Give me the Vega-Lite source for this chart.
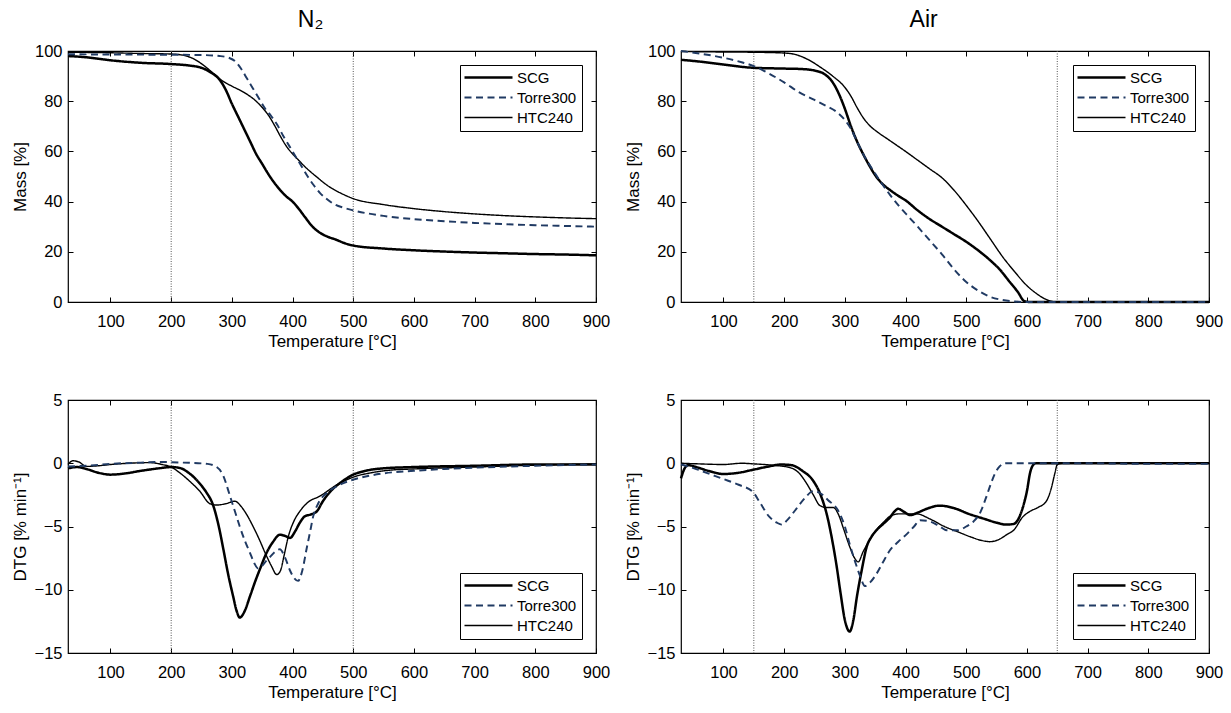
{
  "$schema": "https://vega.github.io/schema/vega-lite/v6.json",
  "padding": {"left": 10, "top": 8, "right": 5, "bottom": 5},
  "background": "white",
  "datasets": {
    "guides": [
      {"p": "n2", "t": 200}, {"p": "n2", "t": 500},
      {"p": "air", "t": 150}, {"p": "air", "t": 650}
    ],
    "curves": [
      {"p":"n2m","s":"SCG","t":30,"v":98},{"p":"n2m","s":"SCG","t":60,"v":97.5},{"p":"n2m","s":"SCG","t":100,"v":96.3},{"p":"n2m","s":"SCG","t":150,"v":95.3},{"p":"n2m","s":"SCG","t":200,"v":94.8},{"p":"n2m","s":"SCG","t":230,"v":94.2},{"p":"n2m","s":"SCG","t":250,"v":93.3},{"p":"n2m","s":"SCG","t":265,"v":91.5},{"p":"n2m","s":"SCG","t":280,"v":88.5},{"p":"n2m","s":"SCG","t":290,"v":84.5},{"p":"n2m","s":"SCG","t":300,"v":79},{"p":"n2m","s":"SCG","t":310,"v":74},{"p":"n2m","s":"SCG","t":320,"v":69},{"p":"n2m","s":"SCG","t":330,"v":64},{"p":"n2m","s":"SCG","t":340,"v":59},{"p":"n2m","s":"SCG","t":350,"v":55},{"p":"n2m","s":"SCG","t":360,"v":51},{"p":"n2m","s":"SCG","t":370,"v":47.5},{"p":"n2m","s":"SCG","t":380,"v":44.5},{"p":"n2m","s":"SCG","t":390,"v":42},{"p":"n2m","s":"SCG","t":400,"v":40},{"p":"n2m","s":"SCG","t":410,"v":37.2},{"p":"n2m","s":"SCG","t":420,"v":34},{"p":"n2m","s":"SCG","t":433,"v":30},{"p":"n2m","s":"SCG","t":445,"v":27.6},{"p":"n2m","s":"SCG","t":458,"v":26},{"p":"n2m","s":"SCG","t":472,"v":24.8},{"p":"n2m","s":"SCG","t":485,"v":23.5},{"p":"n2m","s":"SCG","t":500,"v":22.5},{"p":"n2m","s":"SCG","t":550,"v":21.3},{"p":"n2m","s":"SCG","t":600,"v":20.6},{"p":"n2m","s":"SCG","t":650,"v":20.1},{"p":"n2m","s":"SCG","t":700,"v":19.7},{"p":"n2m","s":"SCG","t":750,"v":19.4},{"p":"n2m","s":"SCG","t":800,"v":19.1},{"p":"n2m","s":"SCG","t":850,"v":18.9},{"p":"n2m","s":"SCG","t":900,"v":18.6},
      {"p":"n2m","s":"HTC240","t":30,"v":99.5},{"p":"n2m","s":"HTC240","t":100,"v":99.3},{"p":"n2m","s":"HTC240","t":150,"v":99},{"p":"n2m","s":"HTC240","t":200,"v":98.8},{"p":"n2m","s":"HTC240","t":220,"v":98.3},{"p":"n2m","s":"HTC240","t":240,"v":96.5},{"p":"n2m","s":"HTC240","t":255,"v":94},{"p":"n2m","s":"HTC240","t":270,"v":91},{"p":"n2m","s":"HTC240","t":285,"v":88},{"p":"n2m","s":"HTC240","t":300,"v":86},{"p":"n2m","s":"HTC240","t":320,"v":83.5},{"p":"n2m","s":"HTC240","t":340,"v":80},{"p":"n2m","s":"HTC240","t":350,"v":77.5},{"p":"n2m","s":"HTC240","t":360,"v":74.5},{"p":"n2m","s":"HTC240","t":370,"v":70.5},{"p":"n2m","s":"HTC240","t":380,"v":66},{"p":"n2m","s":"HTC240","t":390,"v":62},{"p":"n2m","s":"HTC240","t":400,"v":59},{"p":"n2m","s":"HTC240","t":410,"v":56.5},{"p":"n2m","s":"HTC240","t":420,"v":54},{"p":"n2m","s":"HTC240","t":430,"v":51.8},{"p":"n2m","s":"HTC240","t":440,"v":49.8},{"p":"n2m","s":"HTC240","t":450,"v":47.8},{"p":"n2m","s":"HTC240","t":460,"v":46},{"p":"n2m","s":"HTC240","t":480,"v":43.3},{"p":"n2m","s":"HTC240","t":500,"v":41.2},{"p":"n2m","s":"HTC240","t":550,"v":38.8},{"p":"n2m","s":"HTC240","t":600,"v":37.2},{"p":"n2m","s":"HTC240","t":650,"v":36},{"p":"n2m","s":"HTC240","t":700,"v":35.1},{"p":"n2m","s":"HTC240","t":750,"v":34.4},{"p":"n2m","s":"HTC240","t":800,"v":33.9},{"p":"n2m","s":"HTC240","t":850,"v":33.5},{"p":"n2m","s":"HTC240","t":900,"v":33.2},
      {"p":"n2m","s":"Torre300","t":30,"v":98.7},{"p":"n2m","s":"Torre300","t":100,"v":98.6},{"p":"n2m","s":"Torre300","t":200,"v":98.5},{"p":"n2m","s":"Torre300","t":250,"v":98.4},{"p":"n2m","s":"Torre300","t":280,"v":98},{"p":"n2m","s":"Torre300","t":295,"v":97.3},{"p":"n2m","s":"Torre300","t":305,"v":96},{"p":"n2m","s":"Torre300","t":315,"v":93},{"p":"n2m","s":"Torre300","t":325,"v":89},{"p":"n2m","s":"Torre300","t":335,"v":85},{"p":"n2m","s":"Torre300","t":345,"v":81},{"p":"n2m","s":"Torre300","t":355,"v":77},{"p":"n2m","s":"Torre300","t":365,"v":74},{"p":"n2m","s":"Torre300","t":375,"v":70.5},{"p":"n2m","s":"Torre300","t":385,"v":66},{"p":"n2m","s":"Torre300","t":395,"v":62},{"p":"n2m","s":"Torre300","t":405,"v":58},{"p":"n2m","s":"Torre300","t":415,"v":54},{"p":"n2m","s":"Torre300","t":425,"v":50},{"p":"n2m","s":"Torre300","t":435,"v":46.5},{"p":"n2m","s":"Torre300","t":445,"v":43.5},{"p":"n2m","s":"Torre300","t":455,"v":41.3},{"p":"n2m","s":"Torre300","t":470,"v":38.8},{"p":"n2m","s":"Torre300","t":485,"v":37.5},{"p":"n2m","s":"Torre300","t":500,"v":36.5},{"p":"n2m","s":"Torre300","t":550,"v":34.3},{"p":"n2m","s":"Torre300","t":600,"v":33},{"p":"n2m","s":"Torre300","t":650,"v":32.2},{"p":"n2m","s":"Torre300","t":700,"v":31.5},{"p":"n2m","s":"Torre300","t":750,"v":31},{"p":"n2m","s":"Torre300","t":800,"v":30.6},{"p":"n2m","s":"Torre300","t":850,"v":30.3},{"p":"n2m","s":"Torre300","t":900,"v":30},

      {"p":"airm","s":"SCG","t":30,"v":96.5},{"p":"airm","s":"SCG","t":60,"v":95.8},{"p":"airm","s":"SCG","t":100,"v":94.6},{"p":"airm","s":"SCG","t":150,"v":93.3},{"p":"airm","s":"SCG","t":200,"v":93},{"p":"airm","s":"SCG","t":230,"v":92.8},{"p":"airm","s":"SCG","t":250,"v":92.2},{"p":"airm","s":"SCG","t":265,"v":91},{"p":"airm","s":"SCG","t":280,"v":87.5},{"p":"airm","s":"SCG","t":290,"v":83},{"p":"airm","s":"SCG","t":300,"v":77},{"p":"airm","s":"SCG","t":310,"v":70},{"p":"airm","s":"SCG","t":320,"v":64},{"p":"airm","s":"SCG","t":330,"v":59},{"p":"airm","s":"SCG","t":340,"v":54.5},{"p":"airm","s":"SCG","t":350,"v":50.5},{"p":"airm","s":"SCG","t":360,"v":47.5},{"p":"airm","s":"SCG","t":375,"v":44.5},{"p":"airm","s":"SCG","t":390,"v":42},{"p":"airm","s":"SCG","t":400,"v":40.5},{"p":"airm","s":"SCG","t":420,"v":36.5},{"p":"airm","s":"SCG","t":440,"v":33},{"p":"airm","s":"SCG","t":460,"v":30},{"p":"airm","s":"SCG","t":480,"v":27},{"p":"airm","s":"SCG","t":500,"v":24},{"p":"airm","s":"SCG","t":520,"v":20.5},{"p":"airm","s":"SCG","t":540,"v":16.5},{"p":"airm","s":"SCG","t":555,"v":13},{"p":"airm","s":"SCG","t":570,"v":8.5},{"p":"airm","s":"SCG","t":585,"v":4},{"p":"airm","s":"SCG","t":596,"v":0.3},{"p":"airm","s":"SCG","t":605,"v":0},{"p":"airm","s":"SCG","t":650,"v":0},{"p":"airm","s":"SCG","t":700,"v":0},{"p":"airm","s":"SCG","t":800,"v":0},{"p":"airm","s":"SCG","t":900,"v":0},
      {"p":"airm","s":"HTC240","t":30,"v":99.8},{"p":"airm","s":"HTC240","t":100,"v":99.6},{"p":"airm","s":"HTC240","t":150,"v":99.5},{"p":"airm","s":"HTC240","t":200,"v":99.2},{"p":"airm","s":"HTC240","t":220,"v":98.5},{"p":"airm","s":"HTC240","t":240,"v":96.5},{"p":"airm","s":"HTC240","t":260,"v":93.5},{"p":"airm","s":"HTC240","t":280,"v":90},{"p":"airm","s":"HTC240","t":300,"v":85.5},{"p":"airm","s":"HTC240","t":310,"v":82},{"p":"airm","s":"HTC240","t":320,"v":77.5},{"p":"airm","s":"HTC240","t":330,"v":73.5},{"p":"airm","s":"HTC240","t":340,"v":70.5},{"p":"airm","s":"HTC240","t":355,"v":67.5},{"p":"airm","s":"HTC240","t":370,"v":65},{"p":"airm","s":"HTC240","t":385,"v":62.5},{"p":"airm","s":"HTC240","t":400,"v":60},{"p":"airm","s":"HTC240","t":420,"v":56.5},{"p":"airm","s":"HTC240","t":440,"v":53},{"p":"airm","s":"HTC240","t":460,"v":49.5},{"p":"airm","s":"HTC240","t":480,"v":44.5},{"p":"airm","s":"HTC240","t":500,"v":38.5},{"p":"airm","s":"HTC240","t":520,"v":32},{"p":"airm","s":"HTC240","t":540,"v":25},{"p":"airm","s":"HTC240","t":560,"v":18},{"p":"airm","s":"HTC240","t":580,"v":12},{"p":"airm","s":"HTC240","t":600,"v":6.5},{"p":"airm","s":"HTC240","t":615,"v":3.5},{"p":"airm","s":"HTC240","t":630,"v":1.2},{"p":"airm","s":"HTC240","t":640,"v":0.3},{"p":"airm","s":"HTC240","t":650,"v":0},{"p":"airm","s":"HTC240","t":700,"v":0},{"p":"airm","s":"HTC240","t":800,"v":0},{"p":"airm","s":"HTC240","t":900,"v":0},
      {"p":"airm","s":"Torre300","t":30,"v":100},{"p":"airm","s":"Torre300","t":60,"v":99},{"p":"airm","s":"Torre300","t":100,"v":97.3},{"p":"airm","s":"Torre300","t":130,"v":95.5},{"p":"airm","s":"Torre300","t":150,"v":94},{"p":"airm","s":"Torre300","t":175,"v":91},{"p":"airm","s":"Torre300","t":200,"v":87.5},{"p":"airm","s":"Torre300","t":225,"v":83.5},{"p":"airm","s":"Torre300","t":250,"v":80.5},{"p":"airm","s":"Torre300","t":270,"v":78},{"p":"airm","s":"Torre300","t":285,"v":76},{"p":"airm","s":"Torre300","t":300,"v":72.5},{"p":"airm","s":"Torre300","t":310,"v":69},{"p":"airm","s":"Torre300","t":320,"v":64},{"p":"airm","s":"Torre300","t":330,"v":59},{"p":"airm","s":"Torre300","t":345,"v":53},{"p":"airm","s":"Torre300","t":360,"v":47.5},{"p":"airm","s":"Torre300","t":375,"v":42.5},{"p":"airm","s":"Torre300","t":390,"v":38},{"p":"airm","s":"Torre300","t":405,"v":34},{"p":"airm","s":"Torre300","t":420,"v":30},{"p":"airm","s":"Torre300","t":440,"v":24.5},{"p":"airm","s":"Torre300","t":460,"v":19},{"p":"airm","s":"Torre300","t":480,"v":13},{"p":"airm","s":"Torre300","t":500,"v":8},{"p":"airm","s":"Torre300","t":520,"v":4.5},{"p":"airm","s":"Torre300","t":540,"v":2},{"p":"airm","s":"Torre300","t":560,"v":0.8},{"p":"airm","s":"Torre300","t":580,"v":0.2},{"p":"airm","s":"Torre300","t":600,"v":0},{"p":"airm","s":"Torre300","t":700,"v":0},{"p":"airm","s":"Torre300","t":800,"v":0},{"p":"airm","s":"Torre300","t":900,"v":0},

      {"p":"n2d","s":"SCG","t":30,"v":-0.4},{"p":"n2d","s":"SCG","t":45,"v":-0.3},{"p":"n2d","s":"SCG","t":60,"v":-0.45},{"p":"n2d","s":"SCG","t":80,"v":-0.75},{"p":"n2d","s":"SCG","t":100,"v":-0.9},{"p":"n2d","s":"SCG","t":125,"v":-0.8},{"p":"n2d","s":"SCG","t":150,"v":-0.6},{"p":"n2d","s":"SCG","t":180,"v":-0.4},{"p":"n2d","s":"SCG","t":200,"v":-0.3},{"p":"n2d","s":"SCG","t":214,"v":-0.37},{"p":"n2d","s":"SCG","t":230,"v":-0.8},{"p":"n2d","s":"SCG","t":247,"v":-1.6},{"p":"n2d","s":"SCG","t":258,"v":-2.3},{"p":"n2d","s":"SCG","t":269,"v":-3.3},{"p":"n2d","s":"SCG","t":278,"v":-4.9},{"p":"n2d","s":"SCG","t":286,"v":-6.8},{"p":"n2d","s":"SCG","t":294,"v":-8.8},{"p":"n2d","s":"SCG","t":302,"v":-10.5},{"p":"n2d","s":"SCG","t":308,"v":-11.7},{"p":"n2d","s":"SCG","t":313,"v":-12.2},{"p":"n2d","s":"SCG","t":320,"v":-11.8},{"p":"n2d","s":"SCG","t":330,"v":-10.5},{"p":"n2d","s":"SCG","t":338,"v":-9.4},{"p":"n2d","s":"SCG","t":346,"v":-8.4},{"p":"n2d","s":"SCG","t":357,"v":-7.1},{"p":"n2d","s":"SCG","t":368,"v":-6.2},{"p":"n2d","s":"SCG","t":379,"v":-5.65},{"p":"n2d","s":"SCG","t":388,"v":-5.75},{"p":"n2d","s":"SCG","t":396,"v":-5.9},{"p":"n2d","s":"SCG","t":404,"v":-5.4},{"p":"n2d","s":"SCG","t":412,"v":-4.7},{"p":"n2d","s":"SCG","t":420,"v":-4.2},{"p":"n2d","s":"SCG","t":430,"v":-4.05},{"p":"n2d","s":"SCG","t":440,"v":-3.8},{"p":"n2d","s":"SCG","t":450,"v":-3.0},{"p":"n2d","s":"SCG","t":465,"v":-2.1},{"p":"n2d","s":"SCG","t":480,"v":-1.5},{"p":"n2d","s":"SCG","t":500,"v":-0.9},{"p":"n2d","s":"SCG","t":520,"v":-0.6},{"p":"n2d","s":"SCG","t":550,"v":-0.4},{"p":"n2d","s":"SCG","t":600,"v":-0.3},{"p":"n2d","s":"SCG","t":700,"v":-0.2},{"p":"n2d","s":"SCG","t":800,"v":-0.1},{"p":"n2d","s":"SCG","t":900,"v":-0.1},
      {"p":"n2d","s":"HTC240","t":30,"v":-0.1},{"p":"n2d","s":"HTC240","t":38,"v":0.2},{"p":"n2d","s":"HTC240","t":48,"v":0.1},{"p":"n2d","s":"HTC240","t":60,"v":-0.25},{"p":"n2d","s":"HTC240","t":80,"v":-0.2},{"p":"n2d","s":"HTC240","t":100,"v":-0.1},{"p":"n2d","s":"HTC240","t":130,"v":0},{"p":"n2d","s":"HTC240","t":165,"v":0.05},{"p":"n2d","s":"HTC240","t":185,"v":-0.1},{"p":"n2d","s":"HTC240","t":200,"v":-0.3},{"p":"n2d","s":"HTC240","t":214,"v":-0.75},{"p":"n2d","s":"HTC240","t":230,"v":-1.4},{"p":"n2d","s":"HTC240","t":247,"v":-2.2},{"p":"n2d","s":"HTC240","t":264,"v":-3.2},{"p":"n2d","s":"HTC240","t":275,"v":-3.3},{"p":"n2d","s":"HTC240","t":290,"v":-3.2},{"p":"n2d","s":"HTC240","t":305,"v":-3.0},{"p":"n2d","s":"HTC240","t":315,"v":-3.4},{"p":"n2d","s":"HTC240","t":325,"v":-4.1},{"p":"n2d","s":"HTC240","t":335,"v":-5},{"p":"n2d","s":"HTC240","t":345,"v":-6},{"p":"n2d","s":"HTC240","t":355,"v":-7.1},{"p":"n2d","s":"HTC240","t":365,"v":-8.1},{"p":"n2d","s":"HTC240","t":374,"v":-8.8},{"p":"n2d","s":"HTC240","t":380,"v":-8.5},{"p":"n2d","s":"HTC240","t":386,"v":-7.3},{"p":"n2d","s":"HTC240","t":393,"v":-5.8},{"p":"n2d","s":"HTC240","t":402,"v":-4.6},{"p":"n2d","s":"HTC240","t":412,"v":-3.8},{"p":"n2d","s":"HTC240","t":425,"v":-3.1},{"p":"n2d","s":"HTC240","t":445,"v":-2.6},{"p":"n2d","s":"HTC240","t":470,"v":-1.8},{"p":"n2d","s":"HTC240","t":500,"v":-1.1},{"p":"n2d","s":"HTC240","t":530,"v":-0.75},{"p":"n2d","s":"HTC240","t":560,"v":-0.55},{"p":"n2d","s":"HTC240","t":600,"v":-0.45},{"p":"n2d","s":"HTC240","t":700,"v":-0.3},{"p":"n2d","s":"HTC240","t":800,"v":-0.15},{"p":"n2d","s":"HTC240","t":900,"v":-0.05},
      {"p":"n2d","s":"Torre300","t":30,"v":-0.25},{"p":"n2d","s":"Torre300","t":60,"v":-0.2},{"p":"n2d","s":"Torre300","t":100,"v":-0.05},{"p":"n2d","s":"Torre300","t":150,"v":0.05},{"p":"n2d","s":"Torre300","t":180,"v":0.1},{"p":"n2d","s":"Torre300","t":220,"v":0.05},{"p":"n2d","s":"Torre300","t":260,"v":-0.05},{"p":"n2d","s":"Torre300","t":275,"v":-0.3},{"p":"n2d","s":"Torre300","t":285,"v":-0.9},{"p":"n2d","s":"Torre300","t":297,"v":-2.6},{"p":"n2d","s":"Torre300","t":305,"v":-3.8},{"p":"n2d","s":"Torre300","t":313,"v":-5.0},{"p":"n2d","s":"Torre300","t":322,"v":-6.2},{"p":"n2d","s":"Torre300","t":330,"v":-7.1},{"p":"n2d","s":"Torre300","t":337,"v":-7.9},{"p":"n2d","s":"Torre300","t":343,"v":-8.3},{"p":"n2d","s":"Torre300","t":350,"v":-8.1},{"p":"n2d","s":"Torre300","t":357,"v":-7.7},{"p":"n2d","s":"Torre300","t":363,"v":-7.4},{"p":"n2d","s":"Torre300","t":371,"v":-7.0},{"p":"n2d","s":"Torre300","t":379,"v":-6.8},{"p":"n2d","s":"Torre300","t":388,"v":-7.5},{"p":"n2d","s":"Torre300","t":396,"v":-8.5},{"p":"n2d","s":"Torre300","t":403,"v":-9.1},{"p":"n2d","s":"Torre300","t":409,"v":-9.3},{"p":"n2d","s":"Torre300","t":416,"v":-8.5},{"p":"n2d","s":"Torre300","t":423,"v":-6.8},{"p":"n2d","s":"Torre300","t":429,"v":-5.4},{"p":"n2d","s":"Torre300","t":434,"v":-4.2},{"p":"n2d","s":"Torre300","t":442,"v":-3.2},{"p":"n2d","s":"Torre300","t":455,"v":-2.4},{"p":"n2d","s":"Torre300","t":470,"v":-1.9},{"p":"n2d","s":"Torre300","t":485,"v":-1.55},{"p":"n2d","s":"Torre300","t":500,"v":-1.3},{"p":"n2d","s":"Torre300","t":550,"v":-0.8},{"p":"n2d","s":"Torre300","t":600,"v":-0.6},{"p":"n2d","s":"Torre300","t":650,"v":-0.45},{"p":"n2d","s":"Torre300","t":700,"v":-0.35},{"p":"n2d","s":"Torre300","t":800,"v":-0.2},{"p":"n2d","s":"Torre300","t":900,"v":-0.1},

      {"p":"aird","s":"SCG","t":30,"v":-1.2},{"p":"aird","s":"SCG","t":35,"v":-0.5},{"p":"aird","s":"SCG","t":42,"v":-0.15},{"p":"aird","s":"SCG","t":55,"v":-0.3},{"p":"aird","s":"SCG","t":75,"v":-0.6},{"p":"aird","s":"SCG","t":100,"v":-0.85},{"p":"aird","s":"SCG","t":125,"v":-0.75},{"p":"aird","s":"SCG","t":150,"v":-0.5},{"p":"aird","s":"SCG","t":175,"v":-0.25},{"p":"aird","s":"SCG","t":195,"v":-0.1},{"p":"aird","s":"SCG","t":212,"v":-0.15},{"p":"aird","s":"SCG","t":230,"v":-0.6},{"p":"aird","s":"SCG","t":248,"v":-1.4},{"p":"aird","s":"SCG","t":260,"v":-2.5},{"p":"aird","s":"SCG","t":270,"v":-4},{"p":"aird","s":"SCG","t":280,"v":-6.3},{"p":"aird","s":"SCG","t":286,"v":-8},{"p":"aird","s":"SCG","t":293,"v":-10.3},{"p":"aird","s":"SCG","t":300,"v":-12.4},{"p":"aird","s":"SCG","t":308,"v":-13.3},{"p":"aird","s":"SCG","t":314,"v":-12.4},{"p":"aird","s":"SCG","t":320,"v":-10.5},{"p":"aird","s":"SCG","t":328,"v":-8.4},{"p":"aird","s":"SCG","t":336,"v":-6.6},{"p":"aird","s":"SCG","t":344,"v":-5.8},{"p":"aird","s":"SCG","t":352,"v":-5.3},{"p":"aird","s":"SCG","t":363,"v":-4.8},{"p":"aird","s":"SCG","t":374,"v":-4.3},{"p":"aird","s":"SCG","t":382,"v":-3.8},{"p":"aird","s":"SCG","t":388,"v":-3.6},{"p":"aird","s":"SCG","t":396,"v":-3.8},{"p":"aird","s":"SCG","t":408,"v":-4.1},{"p":"aird","s":"SCG","t":420,"v":-3.9},{"p":"aird","s":"SCG","t":435,"v":-3.6},{"p":"aird","s":"SCG","t":456,"v":-3.35},{"p":"aird","s":"SCG","t":480,"v":-3.55},{"p":"aird","s":"SCG","t":504,"v":-4.0},{"p":"aird","s":"SCG","t":530,"v":-4.4},{"p":"aird","s":"SCG","t":550,"v":-4.7},{"p":"aird","s":"SCG","t":566,"v":-4.85},{"p":"aird","s":"SCG","t":578,"v":-4.8},{"p":"aird","s":"SCG","t":588,"v":-4.2},{"p":"aird","s":"SCG","t":595,"v":-3.2},{"p":"aird","s":"SCG","t":600,"v":-2.2},{"p":"aird","s":"SCG","t":605,"v":-0.8},{"p":"aird","s":"SCG","t":610,"v":-0.15},{"p":"aird","s":"SCG","t":615,"v":0},{"p":"aird","s":"SCG","t":650,"v":0},{"p":"aird","s":"SCG","t":700,"v":0},{"p":"aird","s":"SCG","t":800,"v":0},{"p":"aird","s":"SCG","t":900,"v":0},
      {"p":"aird","s":"HTC240","t":30,"v":0},{"p":"aird","s":"HTC240","t":60,"v":-0.05},{"p":"aird","s":"HTC240","t":100,"v":-0.1},{"p":"aird","s":"HTC240","t":130,"v":0},{"p":"aird","s":"HTC240","t":150,"v":-0.05},{"p":"aird","s":"HTC240","t":180,"v":-0.15},{"p":"aird","s":"HTC240","t":210,"v":-0.35},{"p":"aird","s":"HTC240","t":225,"v":-0.8},{"p":"aird","s":"HTC240","t":237,"v":-1.6},{"p":"aird","s":"HTC240","t":248,"v":-2.5},{"p":"aird","s":"HTC240","t":259,"v":-3.35},{"p":"aird","s":"HTC240","t":270,"v":-3.5},{"p":"aird","s":"HTC240","t":281,"v":-3.5},{"p":"aird","s":"HTC240","t":289,"v":-4},{"p":"aird","s":"HTC240","t":298,"v":-5.2},{"p":"aird","s":"HTC240","t":308,"v":-6.6},{"p":"aird","s":"HTC240","t":316,"v":-7.5},{"p":"aird","s":"HTC240","t":322,"v":-7.8},{"p":"aird","s":"HTC240","t":330,"v":-7},{"p":"aird","s":"HTC240","t":338,"v":-6.3},{"p":"aird","s":"HTC240","t":347,"v":-5.6},{"p":"aird","s":"HTC240","t":355,"v":-5.1},{"p":"aird","s":"HTC240","t":363,"v":-4.7},{"p":"aird","s":"HTC240","t":374,"v":-4.2},{"p":"aird","s":"HTC240","t":390,"v":-4.0},{"p":"aird","s":"HTC240","t":418,"v":-4.0},{"p":"aird","s":"HTC240","t":440,"v":-4.4},{"p":"aird","s":"HTC240","t":464,"v":-5.0},{"p":"aird","s":"HTC240","t":485,"v":-5.4},{"p":"aird","s":"HTC240","t":506,"v":-5.8},{"p":"aird","s":"HTC240","t":525,"v":-6.1},{"p":"aird","s":"HTC240","t":539,"v":-6.2},{"p":"aird","s":"HTC240","t":555,"v":-6},{"p":"aird","s":"HTC240","t":568,"v":-5.6},{"p":"aird","s":"HTC240","t":578,"v":-5.3},{"p":"aird","s":"HTC240","t":593,"v":-4.25},{"p":"aird","s":"HTC240","t":605,"v":-3.8},{"p":"aird","s":"HTC240","t":618,"v":-3.5},{"p":"aird","s":"HTC240","t":632,"v":-3.0},{"p":"aird","s":"HTC240","t":640,"v":-2},{"p":"aird","s":"HTC240","t":646,"v":-0.8},{"p":"aird","s":"HTC240","t":650,"v":-0.1},{"p":"aird","s":"HTC240","t":660,"v":0},{"p":"aird","s":"HTC240","t":700,"v":0},{"p":"aird","s":"HTC240","t":800,"v":0},{"p":"aird","s":"HTC240","t":900,"v":0},
      {"p":"aird","s":"Torre300","t":30,"v":-0.1},{"p":"aird","s":"Torre300","t":45,"v":-0.3},{"p":"aird","s":"Torre300","t":60,"v":-0.55},{"p":"aird","s":"Torre300","t":80,"v":-0.9},{"p":"aird","s":"Torre300","t":100,"v":-1.25},{"p":"aird","s":"Torre300","t":125,"v":-1.7},{"p":"aird","s":"Torre300","t":149,"v":-2.3},{"p":"aird","s":"Torre300","t":160,"v":-3.1},{"p":"aird","s":"Torre300","t":175,"v":-4.2},{"p":"aird","s":"Torre300","t":188,"v":-4.7},{"p":"aird","s":"Torre300","t":196,"v":-4.85},{"p":"aird","s":"Torre300","t":205,"v":-4.5},{"p":"aird","s":"Torre300","t":220,"v":-3.6},{"p":"aird","s":"Torre300","t":235,"v":-2.7},{"p":"aird","s":"Torre300","t":248,"v":-2.2},{"p":"aird","s":"Torre300","t":259,"v":-2.35},{"p":"aird","s":"Torre300","t":272,"v":-2.9},{"p":"aird","s":"Torre300","t":289,"v":-3.75},{"p":"aird","s":"Torre300","t":300,"v":-5},{"p":"aird","s":"Torre300","t":308,"v":-6.4},{"p":"aird","s":"Torre300","t":317,"v":-7.8},{"p":"aird","s":"Torre300","t":325,"v":-8.9},{"p":"aird","s":"Torre300","t":333,"v":-9.7},{"p":"aird","s":"Torre300","t":342,"v":-9.4},{"p":"aird","s":"Torre300","t":352,"v":-8.75},{"p":"aird","s":"Torre300","t":363,"v":-7.8},{"p":"aird","s":"Torre300","t":374,"v":-6.9},{"p":"aird","s":"Torre300","t":388,"v":-6.2},{"p":"aird","s":"Torre300","t":402,"v":-5.6},{"p":"aird","s":"Torre300","t":414,"v":-5.0},{"p":"aird","s":"Torre300","t":424,"v":-4.5},{"p":"aird","s":"Torre300","t":440,"v":-4.6},{"p":"aird","s":"Torre300","t":455,"v":-4.95},{"p":"aird","s":"Torre300","t":468,"v":-5.3},{"p":"aird","s":"Torre300","t":485,"v":-5.3},{"p":"aird","s":"Torre300","t":500,"v":-5.0},{"p":"aird","s":"Torre300","t":512,"v":-4.6},{"p":"aird","s":"Torre300","t":522,"v":-4.0},{"p":"aird","s":"Torre300","t":532,"v":-2.8},{"p":"aird","s":"Torre300","t":540,"v":-1.7},{"p":"aird","s":"Torre300","t":547,"v":-0.85},{"p":"aird","s":"Torre300","t":555,"v":-0.25},{"p":"aird","s":"Torre300","t":565,"v":0},{"p":"aird","s":"Torre300","t":600,"v":0},{"p":"aird","s":"Torre300","t":700,"v":0},{"p":"aird","s":"Torre300","t":800,"v":-0.05},{"p":"aird","s":"Torre300","t":900,"v":-0.05}
    ]
  },
  "columns": 2,
  "bounds": "flush",
  "spacing": {"row": 98, "column": 85},
  "concat": [
    {
      "width": 528, "height": 251,
      "title": "N₂",
      "layer": [
        {"data": {"name": "guides"}, "transform": [{"filter": "datum.p === 'n2'"}],
         "mark": {"type": "rule", "color": "#555", "strokeDash": [1, 1.5], "strokeWidth": 1},
         "encoding": {"x": {"field": "t", "type": "quantitative", "scale": {"domain": [30, 900], "nice": false, "zero": false}, "axis": {"orient": "top", "labels": false, "title": null, "values": [100,200,300,400,500,600,700,800,900]}}}},
        {"data": {"name": "curves"}, "transform": [{"filter": "datum.p === 'n2m'"}],
         "mark": {"type": "line", "interpolate": "monotone"},
         "encoding": {
           "x": {"field": "t", "type": "quantitative", "axis": {"title": "Temperature [°C]", "values": [100,200,300,400,500,600,700,800,900]}},
           "y": {"field": "v", "type": "quantitative", "scale": {"domain": [0, 100], "nice": false}, "axis": {"title": "Mass [%]", "values": [0,20,40,60,80,100]}},
           "color": {"field": "s", "type": "nominal", "scale": {"domain": ["SCG", "Torre300", "HTC240"], "range": ["#000000", "#203a63", "#000000"]}, "legend": {"orient": "top-right", "title": null}},
           "strokeDash": {"field": "s", "type": "nominal", "scale": {"domain": ["SCG", "Torre300", "HTC240"], "range": [[1, 0], [7, 4.5], [1, 0]]}, "legend": {"orient": "top-right", "title": null}},
           "strokeWidth": {"field": "s", "type": "nominal", "scale": {"type": "point", "padding": 0, "domain": ["SCG", "Torre300", "HTC240"], "range": [2.5, 1.4]}, "legend": {"orient": "top-right", "title": null}}
         }},
        {"data": {"name": "curves"}, "transform": [{"filter": "datum.p === 'n2m'"}],
         "mark": {"type": "line", "opacity": 0},
         "encoding": {
           "x": {"field": "t", "type": "quantitative", "axis": null},
           "y": {"field": "v", "type": "quantitative", "axis": {"orient": "right", "labels": false, "title": null, "values": [0,20,40,60,80,100]}},
           "detail": {"field": "s"}
         }}
      ],
      "resolve": {"axis": {"x": "independent", "y": "independent"}}
    },
    {
      "width": 528, "height": 251,
      "title": "Air",
      "layer": [
        {"data": {"name": "guides"}, "transform": [{"filter": "datum.p === 'air'"}],
         "mark": {"type": "rule", "color": "#555", "strokeDash": [1, 1.5], "strokeWidth": 1},
         "encoding": {"x": {"field": "t", "type": "quantitative", "scale": {"domain": [30, 900], "nice": false, "zero": false}, "axis": {"orient": "top", "labels": false, "title": null, "values": [100,200,300,400,500,600,700,800,900]}}}},
        {"data": {"name": "curves"}, "transform": [{"filter": "datum.p === 'airm'"}],
         "mark": {"type": "line", "interpolate": "monotone"},
         "encoding": {
           "x": {"field": "t", "type": "quantitative", "axis": {"title": "Temperature [°C]", "values": [100,200,300,400,500,600,700,800,900]}},
           "y": {"field": "v", "type": "quantitative", "scale": {"domain": [0, 100], "nice": false}, "axis": {"title": "Mass [%]", "values": [0,20,40,60,80,100]}},
           "color": {"field": "s", "type": "nominal", "scale": {"domain": ["SCG", "Torre300", "HTC240"], "range": ["#000000", "#203a63", "#000000"]}, "legend": {"orient": "top-right", "title": null}},
           "strokeDash": {"field": "s", "type": "nominal", "scale": {"domain": ["SCG", "Torre300", "HTC240"], "range": [[1, 0], [7, 4.5], [1, 0]]}, "legend": {"orient": "top-right", "title": null}},
           "strokeWidth": {"field": "s", "type": "nominal", "scale": {"type": "point", "padding": 0, "domain": ["SCG", "Torre300", "HTC240"], "range": [2.5, 1.4]}, "legend": {"orient": "top-right", "title": null}}
         }},
        {"data": {"name": "curves"}, "transform": [{"filter": "datum.p === 'airm'"}],
         "mark": {"type": "line", "opacity": 0},
         "encoding": {
           "x": {"field": "t", "type": "quantitative", "axis": null},
           "y": {"field": "v", "type": "quantitative", "axis": {"orient": "right", "labels": false, "title": null, "values": [0,20,40,60,80,100]}},
           "detail": {"field": "s"}
         }}
      ],
      "resolve": {"axis": {"x": "independent", "y": "independent"}}
    },
    {
      "width": 528, "height": 253,
      "layer": [
        {"data": {"name": "guides"}, "transform": [{"filter": "datum.p === 'n2'"}],
         "mark": {"type": "rule", "color": "#555", "strokeDash": [1, 1.5], "strokeWidth": 1},
         "encoding": {"x": {"field": "t", "type": "quantitative", "scale": {"domain": [30, 900], "nice": false, "zero": false}, "axis": {"orient": "top", "labels": false, "title": null, "values": [100,200,300,400,500,600,700,800,900]}}}},
        {"data": {"name": "curves"}, "transform": [{"filter": "datum.p === 'n2d'"}],
         "mark": {"type": "line", "interpolate": "monotone"},
         "encoding": {
           "x": {"field": "t", "type": "quantitative", "axis": {"title": "Temperature [°C]", "values": [100,200,300,400,500,600,700,800,900]}},
           "y": {"field": "v", "type": "quantitative", "scale": {"domain": [-15, 5], "nice": false, "zero": false}, "axis": {"title": "DTG [% min⁻¹]", "values": [-15,-10,-5,0,5]}},
           "color": {"field": "s", "type": "nominal", "scale": {"domain": ["SCG", "Torre300", "HTC240"], "range": ["#000000", "#203a63", "#000000"]}, "legend": {"orient": "bottom-right", "title": null}},
           "strokeDash": {"field": "s", "type": "nominal", "scale": {"domain": ["SCG", "Torre300", "HTC240"], "range": [[1, 0], [7, 4.5], [1, 0]]}, "legend": {"orient": "bottom-right", "title": null}},
           "strokeWidth": {"field": "s", "type": "nominal", "scale": {"type": "point", "padding": 0, "domain": ["SCG", "Torre300", "HTC240"], "range": [2.5, 1.4]}, "legend": {"orient": "bottom-right", "title": null}}
         }},
        {"data": {"name": "curves"}, "transform": [{"filter": "datum.p === 'n2d'"}],
         "mark": {"type": "line", "opacity": 0},
         "encoding": {
           "x": {"field": "t", "type": "quantitative", "axis": null},
           "y": {"field": "v", "type": "quantitative", "axis": {"orient": "right", "labels": false, "title": null, "values": [-15,-10,-5,0,5]}},
           "detail": {"field": "s"}
         }}
      ],
      "resolve": {"axis": {"x": "independent", "y": "independent"}}
    },
    {
      "width": 528, "height": 253,
      "layer": [
        {"data": {"name": "guides"}, "transform": [{"filter": "datum.p === 'air'"}],
         "mark": {"type": "rule", "color": "#555", "strokeDash": [1, 1.5], "strokeWidth": 1},
         "encoding": {"x": {"field": "t", "type": "quantitative", "scale": {"domain": [30, 900], "nice": false, "zero": false}, "axis": {"orient": "top", "labels": false, "title": null, "values": [100,200,300,400,500,600,700,800,900]}}}},
        {"data": {"name": "curves"}, "transform": [{"filter": "datum.p === 'aird'"}],
         "mark": {"type": "line", "interpolate": "monotone"},
         "encoding": {
           "x": {"field": "t", "type": "quantitative", "axis": {"title": "Temperature [°C]", "values": [100,200,300,400,500,600,700,800,900]}},
           "y": {"field": "v", "type": "quantitative", "scale": {"domain": [-15, 5], "nice": false, "zero": false}, "axis": {"title": "DTG [% min⁻¹]", "values": [-15,-10,-5,0,5]}},
           "color": {"field": "s", "type": "nominal", "scale": {"domain": ["SCG", "Torre300", "HTC240"], "range": ["#000000", "#203a63", "#000000"]}, "legend": {"orient": "bottom-right", "title": null}},
           "strokeDash": {"field": "s", "type": "nominal", "scale": {"domain": ["SCG", "Torre300", "HTC240"], "range": [[1, 0], [7, 4.5], [1, 0]]}, "legend": {"orient": "bottom-right", "title": null}},
           "strokeWidth": {"field": "s", "type": "nominal", "scale": {"type": "point", "padding": 0, "domain": ["SCG", "Torre300", "HTC240"], "range": [2.5, 1.4]}, "legend": {"orient": "bottom-right", "title": null}}
         }},
        {"data": {"name": "curves"}, "transform": [{"filter": "datum.p === 'aird'"}],
         "mark": {"type": "line", "opacity": 0},
         "encoding": {
           "x": {"field": "t", "type": "quantitative", "axis": null},
           "y": {"field": "v", "type": "quantitative", "axis": {"orient": "right", "labels": false, "title": null, "values": [-15,-10,-5,0,5]}},
           "detail": {"field": "s"}
         }}
      ],
      "resolve": {"axis": {"x": "independent", "y": "independent"}}
    }
  ],
  "config": {
    "font": "Liberation Sans",
    "view": {"stroke": "#000000", "strokeWidth": 1.2},
    "axis": {
      "domain": false, "grid": false, "ticks": true, "tickColor": "#000000", "tickSize": -5, "tickWidth": 1,
      "labelColor": "#000000", "labelFontSize": 16.5, "labelFont": "Liberation Sans", "labelFlush": false, "labelOverlap": false,
      "titleColor": "#000000", "titleFontSize": 17, "titleFontWeight": "normal", "titleFont": "Liberation Sans"
    },
    "axisX": {"labelPadding": 16, "titlePadding": 4},
    "axisY": {"labelPadding": 11, "titlePadding": 5},
    "legend": {
      "strokeColor": "#000000", "fillColor": "#ffffff", "padding": 5, "offset": 14,
      "symbolType": "M-4,0H4", "symbolSize": 144, "symbolOffset": 16,
      "labelFontSize": 15, "labelFont": "Liberation Sans", "labelColor": "#000000", "labelOffset": 21, "rowPadding": 4
    },
    "title": {"fontSize": 23, "fontWeight": "normal", "font": "Liberation Sans", "color": "#000000", "offset": 11, "anchor": "middle", "frame": "bounds"}
  }
}
